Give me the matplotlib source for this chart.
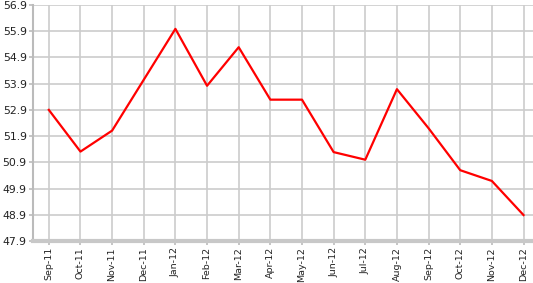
import matplotlib
matplotlib.use('Agg')
import numpy as np
from matplotlib import pyplot as plt

months = ['Sep-11', 'Oct-11', 'Nov-11', 'Dec-11', 'Jan-12', 'Feb-12', 'Mar-12', 'Apr-12',
          'May-12', 'Jun-12', 'Jul-12', 'Aug-12', 'Sep-12', 'Oct-12', 'Nov-12', 'Dec-12']
values = [52.9, 51.31, 52.11, 54.05, 55.99, 53.82, 55.29, 53.29,
          53.29, 51.29, 51.0, 53.69, 52.2, 50.6, 50.19, 48.89]
yticks = [47.9, 48.9, 49.9, 50.9, 51.9, 52.9, 53.9, 54.9, 55.9, 56.9]


def main():
	fig = plt.figure(figsize=(5.33, 2.83), dpi=100)
	ax = fig.add_axes([33 / 533, 1 - 241 / 283, 500 / 533, 236 / 283])

	x = np.arange(len(months))
	ax.plot(x, values, color='#ff0000', linewidth=1.6, zorder=3)

	ax.set_xlim(-0.5, 15.3)
	ax.set_ylim(47.9, 56.9)
	ax.set_xticks(x)
	ax.set_xticklabels(months, rotation=90, fontsize=6.8, color='#222222')
	ax.set_yticks(yticks)
	ax.set_yticklabels(['%.1f' % v for v in yticks], fontsize=7.8, color='#222222')

	ax.grid(True, color='#cccccc', linewidth=1.2)
	ax.set_axisbelow(True)
	for side in ['top', 'right']:
		ax.spines[side].set_visible(False)
	ax.spines['left'].set_color('#bbbbbb')
	ax.spines['left'].set_linewidth(1.5)
	ax.spines['bottom'].set_color('#c8c8c8')
	ax.spines['bottom'].set_linewidth(3)
	ax.tick_params(axis='both', color='#bbbbbb', length=3, width=1.2, pad=1.5)

	fig.savefig('out.png', dpi=100)


if __name__ == "__main__":
	main()
